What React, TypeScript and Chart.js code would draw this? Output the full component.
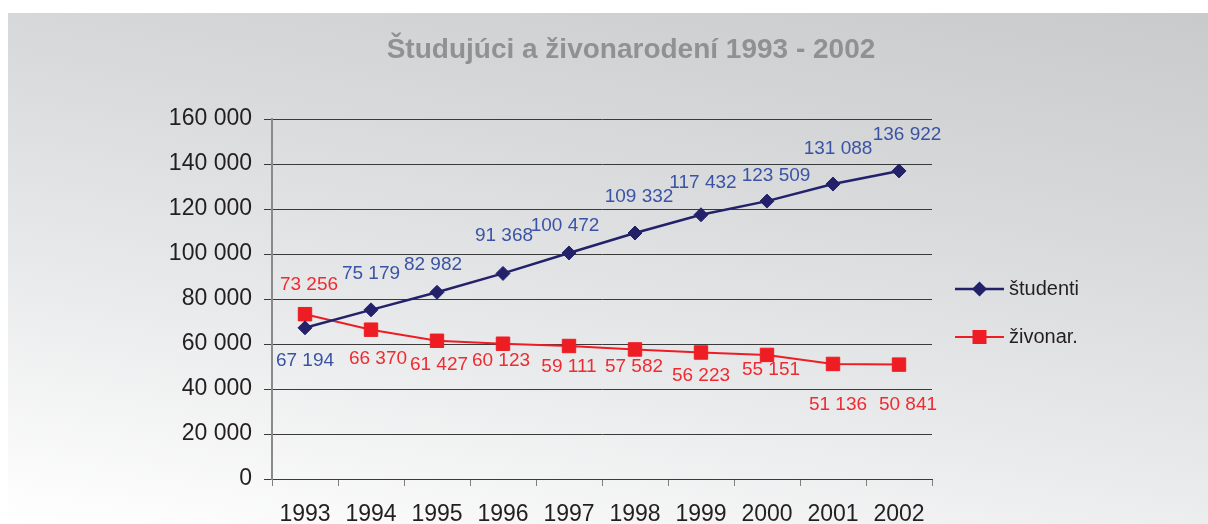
import React, { useEffect, useRef } from 'react';
import { Chart, registerables } from 'chart.js';

Chart.register(...registerables);

// ---- data ----
const years = ['1993', '1994', '1995', '1996', '1997', '1998', '1999', '2000', '2001', '2002'];
const studenti = [67194, 75179, 82982, 91368, 100472, 109332, 117432, 123509, 131088, 136922];
const zivonar = [73256, 66370, 61427, 60123, 59111, 57582, 56223, 55151, 51136, 50841];
const seriesNames = ['študenti', 'živonar.'];
const titleText = 'Študujúci a živonarodení 1993 - 2002';
const yMin = 0;
const yMax = 160000;
const yStep = 20000;

// ---- styles ----
const FONT = '"Liberation Sans", Arial, Helvetica, sans-serif';
const lineColors = ['#24216b', '#ee1d24'];
const labelColors = ['#3a53a4', '#ef2b31'];
const textColor = '#231f20';
// per-point label offsets (dx, dy) from each marker, as placed in the original
const studentiLabelOffsets = [[0, 33], [0, -36], [-4, -28], [1, -38], [-4, -27], [4, -36], [2, -32], [9, -25], [5, -35], [8, -36]];
const zivonarLabelOffsets = [[4, -29], [7, 29], [2, 24], [-2, 17], [0, 21], [-1, 17], [0, 23], [4, 15], [5, 41], [9, 40]];

const fmt = (v: number) => String(v).replace(/\B(?=(\d{3})+(?!\d))/g, ' ');

function drawMarker(ctx: CanvasRenderingContext2D, kind: number, x: number, y: number) {
  ctx.beginPath();
  if (kind === 0) {
    const r = 7.5;
    ctx.moveTo(x - r, y);
    ctx.lineTo(x, y - r);
    ctx.lineTo(x + r, y);
    ctx.lineTo(x, y + r);
    ctx.closePath();
  } else {
    const s = 7;
    ctx.rect(x - s, y - s, 2 * s, 2 * s);
  }
  ctx.fill();
}

const overlayPlugin = {
  id: 'overlay',
  afterDatasetsDraw(chart: any) {
    const ctx: CanvasRenderingContext2D = chart.ctx;
    chart.data.datasets.forEach((ds: any, di: number) => {
      const meta = chart.getDatasetMeta(di);
      const offs = di === 0 ? studentiLabelOffsets : zivonarLabelOffsets;
      ctx.save();
      ctx.font = `19px ${FONT}`;
      ctx.fillStyle = labelColors[di];
      ctx.textAlign = 'center';
      ctx.textBaseline = 'middle';
      meta.data.forEach((pt: any, i: number) => {
        ctx.fillText(fmt(ds.data[i]), pt.x + offs[i][0], pt.y + offs[i][1]);
      });
      ctx.restore();
    });
  },
  afterDraw(chart: any) {
    const ctx: CanvasRenderingContext2D = chart.ctx;
    const area = chart.chartArea;
    ctx.save();
    // title
    ctx.font = `bold 28px ${FONT}`;
    ctx.fillStyle = '#919193';
    ctx.textAlign = 'center';
    ctx.textBaseline = 'alphabetic';
    ctx.fillText(titleText, chart.width / 2 + 23, 45);
    // legend
    const lx = area.right + 23;
    const cy = (area.top + area.bottom) / 2 + 14;
    seriesNames.forEach((name, i) => {
      const y = cy + (i === 0 ? -24 : 24);
      ctx.strokeStyle = lineColors[i];
      ctx.fillStyle = lineColors[i];
      ctx.lineWidth = i === 0 ? 2.5 : 2;
      ctx.beginPath();
      ctx.moveTo(lx, y);
      ctx.lineTo(lx + 49, y);
      ctx.stroke();
      drawMarker(ctx, i, lx + 24.5, y);
      ctx.font = `20px ${FONT}`;
      ctx.fillStyle = textColor;
      ctx.textAlign = 'left';
      ctx.textBaseline = 'middle';
      ctx.fillText(name, lx + 54, y);
    });
    ctx.restore();
  },
};

export default function App() {
  const ref = useRef<HTMLCanvasElement | null>(null);
  useEffect(() => {
    if (!ref.current) return;
    const chart = new Chart(ref.current, {
      type: 'line',
      data: {
        labels: years,
        datasets: [
          {
            label: seriesNames[0],
            data: studenti,
            borderColor: lineColors[0],
            backgroundColor: lineColors[0],
            borderWidth: 2.5,
            pointStyle: 'rectRot',
            pointRadius: 7,
            pointBorderWidth: 1,
            pointBackgroundColor: lineColors[0],
            pointBorderColor: lineColors[0],
            tension: 0,
          },
          {
            label: seriesNames[1],
            data: zivonar,
            borderColor: lineColors[1],
            backgroundColor: lineColors[1],
            borderWidth: 2,
            pointStyle: 'rect',
            pointRadius: 9.5,
            pointBorderWidth: 1,
            pointBackgroundColor: lineColors[1],
            pointBorderColor: lineColors[1],
            tension: 0,
          },
        ],
      },
      options: {
        animation: false,
        responsive: false,
        devicePixelRatio: 1,
        layout: { padding: { left: 0, right: 276, top: 106, bottom: 0 } },
        plugins: {
          legend: { display: false },
          title: { display: false },
          tooltip: { enabled: false },
        },
        scales: {
          x: {
            offset: true,
            grid: {
              display: true,
              offset: true,
              drawOnChartArea: false,
              drawTicks: true,
              tickLength: 7,
              color: '#7f7f7f',
              lineWidth: 1,
            },
            border: { display: true, color: '#3a3a3a', width: 1 },
            ticks: {
              color: textColor,
              font: { family: FONT, size: 23 },
              padding: 15,
              maxRotation: 0,
              autoSkip: false,
            },
            afterFit: (scale: any) => {
              scale.height = 45;
            },
          },
          y: {
            min: yMin,
            max: yMax,
            grid: {
              color: '#3a3a3a',
              lineWidth: 1,
              drawTicks: true,
              tickLength: 8,
            },
            border: { display: true, color: '#8a8a8a', width: 2 },
            ticks: {
              stepSize: yStep,
              color: textColor,
              font: { family: FONT, size: 23 },
              padding: 12,
              callback: (v: any) => fmt(Number(v)),
            },
            afterFit: (scale: any) => {
              scale.width = 264;
            },
          },
        },
      },
      plugins: [overlayPlugin],
    });
    return () => chart.destroy();
  }, []);

  return (
    <div
      style={{
        position: 'absolute',
        left: 8,
        top: 13,
        width: 1200,
        height: 511,
        background: 'linear-gradient(190deg, #c9cacc 0%, #d9dadc 35%, #e9eaeb 65%, #ffffff 100%)',
      }}
    >
      <canvas ref={ref} width={1200} height={511} style={{ display: 'block' }} />
    </div>
  );
}
